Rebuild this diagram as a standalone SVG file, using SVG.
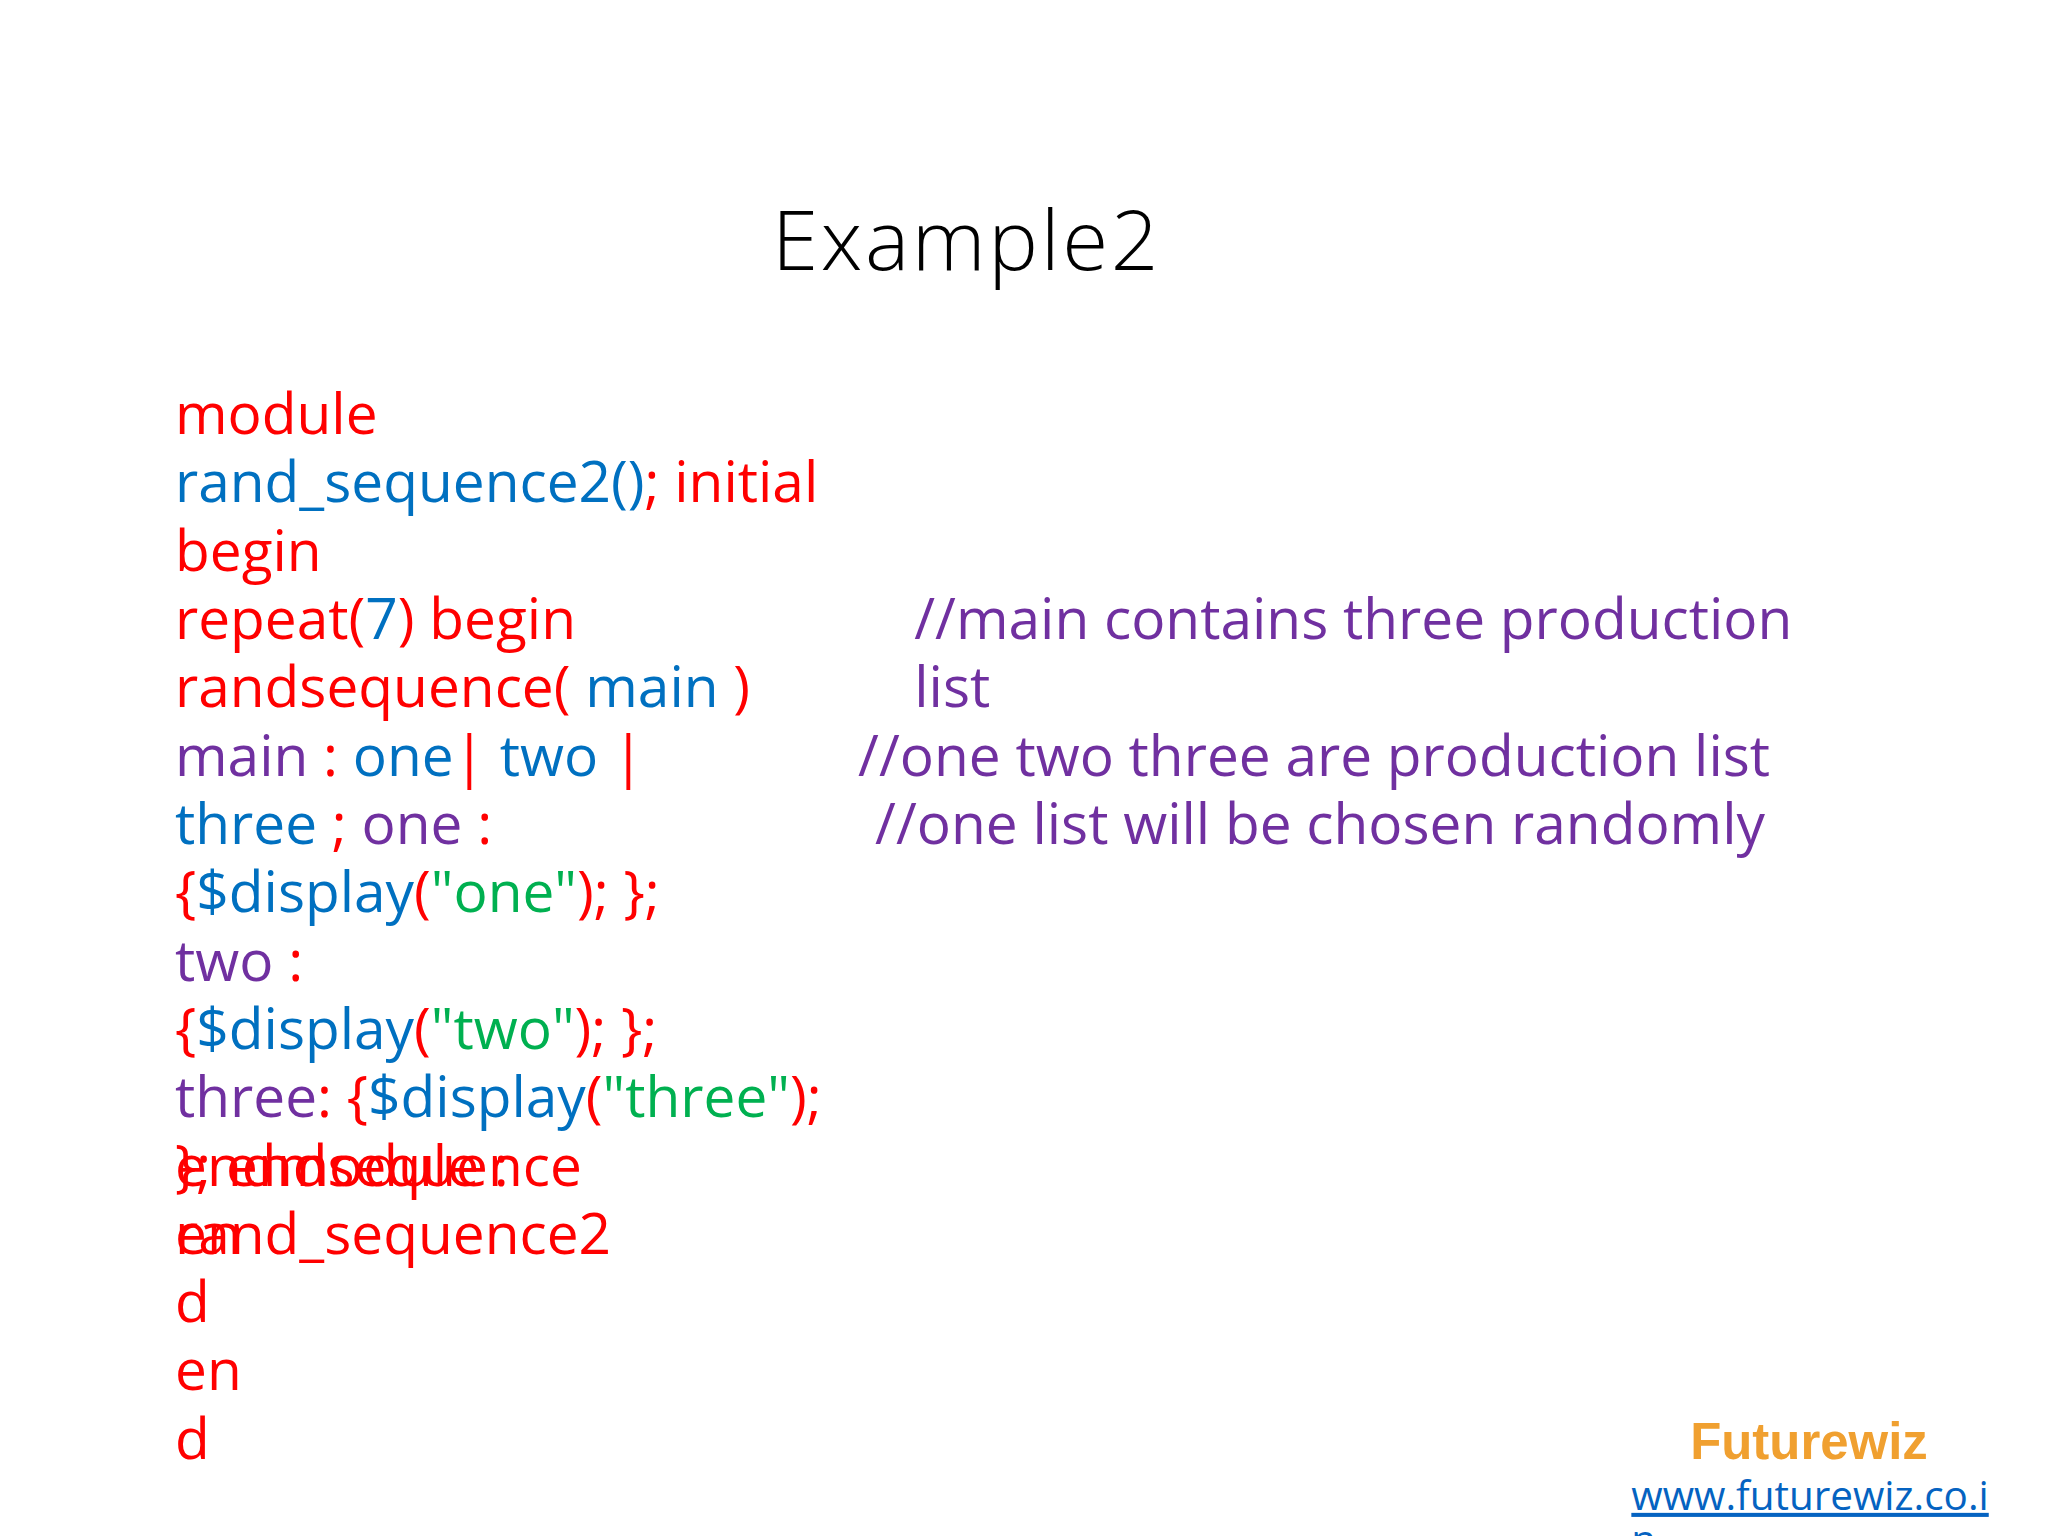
<svg xmlns="http://www.w3.org/2000/svg" width="2048" height="1536" viewBox="0 0 2048 1536">
<style>
text{font-family:"Open Sans","Noto Sans",sans-serif;font-size:43.5px}
.r{fill:#FF0000}.b{fill:#0070C0}.p{fill:#7030A0}.g{fill:#00B050}
</style>
<rect width="2048" height="1536" fill="#fff"/>
<g transform="scale(1.30612)">
<g id="title"><text x="740" y="207" text-anchor="middle" style="font-size:64px;font-weight:300;letter-spacing:2px" fill="#000">Example2</text></g>
<g id="code">
<text x="134" y="332" class="r">module</text>
<text x="134" y="384"><tspan class="b">rand_sequence2()</tspan><tspan class="r">; initial</tspan></text>
<text x="134" y="437" class="r">begin</text>
<text x="134" y="489"><tspan class="r">repeat(</tspan><tspan class="b">7</tspan><tspan class="r">) begin</tspan></text>
<text x="134" y="541"><tspan class="r">randsequence( </tspan><tspan class="b">main </tspan><tspan class="r">)</tspan></text>
<text x="134" y="594" xml:space="preserve"><tspan class="p">main </tspan><tspan class="r">: </tspan><tspan class="b">one</tspan><tspan class="r">| </tspan><tspan class="b">two </tspan><tspan class="r">|</tspan></text>
<text x="134" y="646" xml:space="preserve"><tspan class="b">three </tspan><tspan class="r">; </tspan><tspan class="p">one </tspan><tspan class="r">:</tspan></text>
<text x="134" y="698"><tspan class="r">{</tspan><tspan class="b">$display</tspan><tspan class="r">(</tspan><tspan class="g">"one"</tspan><tspan class="r">); };</tspan></text>
<text x="134" y="751" xml:space="preserve"><tspan class="p">two </tspan><tspan class="r">:</tspan></text>
<text x="134" y="803"><tspan class="r">{</tspan><tspan class="b">$display</tspan><tspan class="r">(</tspan><tspan class="g">"two"</tspan><tspan class="r">); };</tspan></text>
<text x="134" y="855" xml:space="preserve"><tspan class="p">three</tspan><tspan class="r">: {</tspan><tspan class="b">$display</tspan><tspan class="r">(</tspan><tspan class="g">"three"</tspan><tspan class="r">);</tspan></text>
<text x="134" y="908" class="r">}; endsequence</text>
<text x="134" y="908" class="r">endmodule :</text>
<text x="134" y="960" class="r">rand_sequence2</text>
<text x="134" y="960" class="r">en</text>
<text x="134" y="1012" class="r">d</text>
<text x="134" y="1064" class="r">en</text>
<text x="134" y="1117" class="r">d</text>
</g>
<g id="comments" class="p">
<text x="700" y="489" class="p">//main contains three production</text>
<text x="700" y="541" class="p">list</text>
<text x="657" y="594" class="p">//one two three are production list</text>
<text x="670" y="646" class="p">//one list will be chosen randomly</text>
</g>
<g id="footer">
<text x="1385" y="1117" text-anchor="middle" style="font-family:'Liberation Sans',Arial,sans-serif;font-weight:bold;font-size:39px" fill="#F0A030">Futurewiz</text>
<text x="1249" y="1156" style="font-size:31px;text-decoration:underline" fill="#0563C1">www.futurewiz.co.i</text>
<text x="1249" y="1190" style="font-size:31px;text-decoration:underline" fill="#0563C1">n</text>
</g>
</g>
</svg>
